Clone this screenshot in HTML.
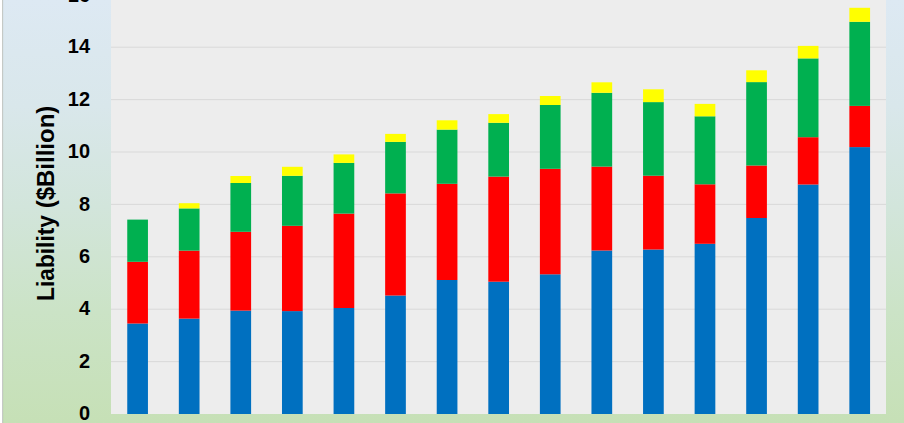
<!DOCTYPE html>
<html><head><meta charset="utf-8"><style>
html,body{margin:0;padding:0;background:#fff;overflow:hidden;}
#root{position:absolute;left:0;top:0;width:904px;height:423px;overflow:hidden;background:#fff;}
body{width:904px;height:423px;overflow:hidden;position:relative;font-family:"Liberation Sans",sans-serif;}
#bg{position:absolute;left:2px;top:0;width:902px;height:423px;background:linear-gradient(to bottom,rgb(221,233,243) 0%,rgb(217,231,235) 25%,rgb(210,229,219) 49%,rgb(203,227,198) 74%,rgb(198,224,182) 100%);}
#bl{position:absolute;left:2px;top:0;width:1px;height:423px;background:#C5C9C6;}
#bl2{position:absolute;left:3px;top:0;width:1px;height:423px;background:rgba(128,128,128,0.05);}
svg{position:absolute;left:0;top:0;}
.yl{position:absolute;left:30px;width:60.0px;text-align:right;font-weight:bold;font-size:21px;line-height:24px;height:24px;color:#000;transform:scaleX(0.95);transform-origin:100% 50%;}
.yt{position:absolute;width:0;height:0;}
.yt span{position:absolute;left:-100px;width:200px;top:-14px;height:28px;line-height:28px;text-align:center;font-weight:bold;font-size:23.2px;color:#000;white-space:nowrap;}
#w1{left:46px;top:257.7px;transform:rotate(-90deg) scaleX(0.98);}
#w2{left:46px;top:157px;transform:rotate(-90deg) scaleX(1.034);}
</style></head><body>
<div id="root">
<div id="bg"></div><div id="bl"></div><div id="bl2"></div>
<svg width="904" height="423" viewBox="0 0 904 423">
<rect x="111.0" y="-6" width="775.0" height="420.0" fill="#EDEDED"/>
<rect x="111.0" y="361.10" width="775.0" height="1" fill="#D9D9D9"/>
<rect x="111.0" y="308.70" width="775.0" height="1" fill="#D9D9D9"/>
<rect x="111.0" y="256.30" width="775.0" height="1" fill="#D9D9D9"/>
<rect x="111.0" y="203.90" width="775.0" height="1" fill="#D9D9D9"/>
<rect x="111.0" y="151.50" width="775.0" height="1" fill="#D9D9D9"/>
<rect x="111.0" y="99.10" width="775.0" height="1" fill="#D9D9D9"/>
<rect x="111.0" y="46.70" width="775.0" height="1" fill="#D9D9D9"/>
<rect x="111.0" y="-5.70" width="775.0" height="1" fill="#D9D9D9"/>
<rect x="127.25" y="323.50" width="20.7" height="90.50" fill="#0070C0"/>
<rect x="127.25" y="261.80" width="20.7" height="61.70" fill="#FF0000"/>
<rect x="127.25" y="219.60" width="20.7" height="42.20" fill="#00B050"/>
<rect x="127.25" y="219.60" width="20.7" height="0.00" fill="#FFFF00"/>
<rect x="178.83" y="318.60" width="20.7" height="95.40" fill="#0070C0"/>
<rect x="178.83" y="250.60" width="20.7" height="68.00" fill="#FF0000"/>
<rect x="178.83" y="208.40" width="20.7" height="42.20" fill="#00B050"/>
<rect x="178.83" y="203.20" width="20.7" height="5.20" fill="#FFFF00"/>
<rect x="230.41" y="310.60" width="20.7" height="103.40" fill="#0070C0"/>
<rect x="230.41" y="231.80" width="20.7" height="78.80" fill="#FF0000"/>
<rect x="230.41" y="183.00" width="20.7" height="48.80" fill="#00B050"/>
<rect x="230.41" y="176.00" width="20.7" height="7.00" fill="#FFFF00"/>
<rect x="281.99" y="311.10" width="20.7" height="102.90" fill="#0070C0"/>
<rect x="281.99" y="225.80" width="20.7" height="85.30" fill="#FF0000"/>
<rect x="281.99" y="175.80" width="20.7" height="50.00" fill="#00B050"/>
<rect x="281.99" y="166.80" width="20.7" height="9.00" fill="#FFFF00"/>
<rect x="333.57" y="308.00" width="20.7" height="106.00" fill="#0070C0"/>
<rect x="333.57" y="213.60" width="20.7" height="94.40" fill="#FF0000"/>
<rect x="333.57" y="162.90" width="20.7" height="50.70" fill="#00B050"/>
<rect x="333.57" y="154.40" width="20.7" height="8.50" fill="#FFFF00"/>
<rect x="385.15" y="295.50" width="20.7" height="118.50" fill="#0070C0"/>
<rect x="385.15" y="193.40" width="20.7" height="102.10" fill="#FF0000"/>
<rect x="385.15" y="141.90" width="20.7" height="51.50" fill="#00B050"/>
<rect x="385.15" y="133.90" width="20.7" height="8.00" fill="#FFFF00"/>
<rect x="436.73" y="280.00" width="20.7" height="134.00" fill="#0070C0"/>
<rect x="436.73" y="183.80" width="20.7" height="96.20" fill="#FF0000"/>
<rect x="436.73" y="129.60" width="20.7" height="54.20" fill="#00B050"/>
<rect x="436.73" y="120.30" width="20.7" height="9.30" fill="#FFFF00"/>
<rect x="488.31" y="281.70" width="20.7" height="132.30" fill="#0070C0"/>
<rect x="488.31" y="176.60" width="20.7" height="105.10" fill="#FF0000"/>
<rect x="488.31" y="122.80" width="20.7" height="53.80" fill="#00B050"/>
<rect x="488.31" y="114.10" width="20.7" height="8.70" fill="#FFFF00"/>
<rect x="539.89" y="274.30" width="20.7" height="139.70" fill="#0070C0"/>
<rect x="539.89" y="168.80" width="20.7" height="105.50" fill="#FF0000"/>
<rect x="539.89" y="105.00" width="20.7" height="63.80" fill="#00B050"/>
<rect x="539.89" y="96.00" width="20.7" height="9.00" fill="#FFFF00"/>
<rect x="591.47" y="250.50" width="20.7" height="163.50" fill="#0070C0"/>
<rect x="591.47" y="166.60" width="20.7" height="83.90" fill="#FF0000"/>
<rect x="591.47" y="92.80" width="20.7" height="73.80" fill="#00B050"/>
<rect x="591.47" y="82.30" width="20.7" height="10.50" fill="#FFFF00"/>
<rect x="643.05" y="249.50" width="20.7" height="164.50" fill="#0070C0"/>
<rect x="643.05" y="175.70" width="20.7" height="73.80" fill="#FF0000"/>
<rect x="643.05" y="102.10" width="20.7" height="73.60" fill="#00B050"/>
<rect x="643.05" y="89.30" width="20.7" height="12.80" fill="#FFFF00"/>
<rect x="694.63" y="243.80" width="20.7" height="170.20" fill="#0070C0"/>
<rect x="694.63" y="184.30" width="20.7" height="59.50" fill="#FF0000"/>
<rect x="694.63" y="116.30" width="20.7" height="68.00" fill="#00B050"/>
<rect x="694.63" y="103.90" width="20.7" height="12.40" fill="#FFFF00"/>
<rect x="746.21" y="218.00" width="20.7" height="196.00" fill="#0070C0"/>
<rect x="746.21" y="165.50" width="20.7" height="52.50" fill="#FF0000"/>
<rect x="746.21" y="82.10" width="20.7" height="83.40" fill="#00B050"/>
<rect x="746.21" y="70.30" width="20.7" height="11.80" fill="#FFFF00"/>
<rect x="797.79" y="184.50" width="20.7" height="229.50" fill="#0070C0"/>
<rect x="797.79" y="137.20" width="20.7" height="47.30" fill="#FF0000"/>
<rect x="797.79" y="58.40" width="20.7" height="78.80" fill="#00B050"/>
<rect x="797.79" y="45.90" width="20.7" height="12.50" fill="#FFFF00"/>
<rect x="849.37" y="147.10" width="20.7" height="266.90" fill="#0070C0"/>
<rect x="849.37" y="105.90" width="20.7" height="41.20" fill="#FF0000"/>
<rect x="849.37" y="21.80" width="20.7" height="84.10" fill="#00B050"/>
<rect x="849.37" y="7.80" width="20.7" height="14.00" fill="#FFFF00"/>
</svg>
<div class="yl" style="top:401.1px">0</div>
<div class="yl" style="top:348.7px">2</div>
<div class="yl" style="top:296.3px">4</div>
<div class="yl" style="top:243.9px">6</div>
<div class="yl" style="top:191.5px">8</div>
<div class="yl" style="top:139.1px">10</div>
<div class="yl" style="top:86.7px">12</div>
<div class="yl" style="top:34.3px">14</div>
<div class="yl" style="top:-17.2px">16</div>
<div class="yt" id="w1"><span>Liability</span></div><div class="yt" id="w2"><span>($Billion)</span></div>
</div>
</body></html>
